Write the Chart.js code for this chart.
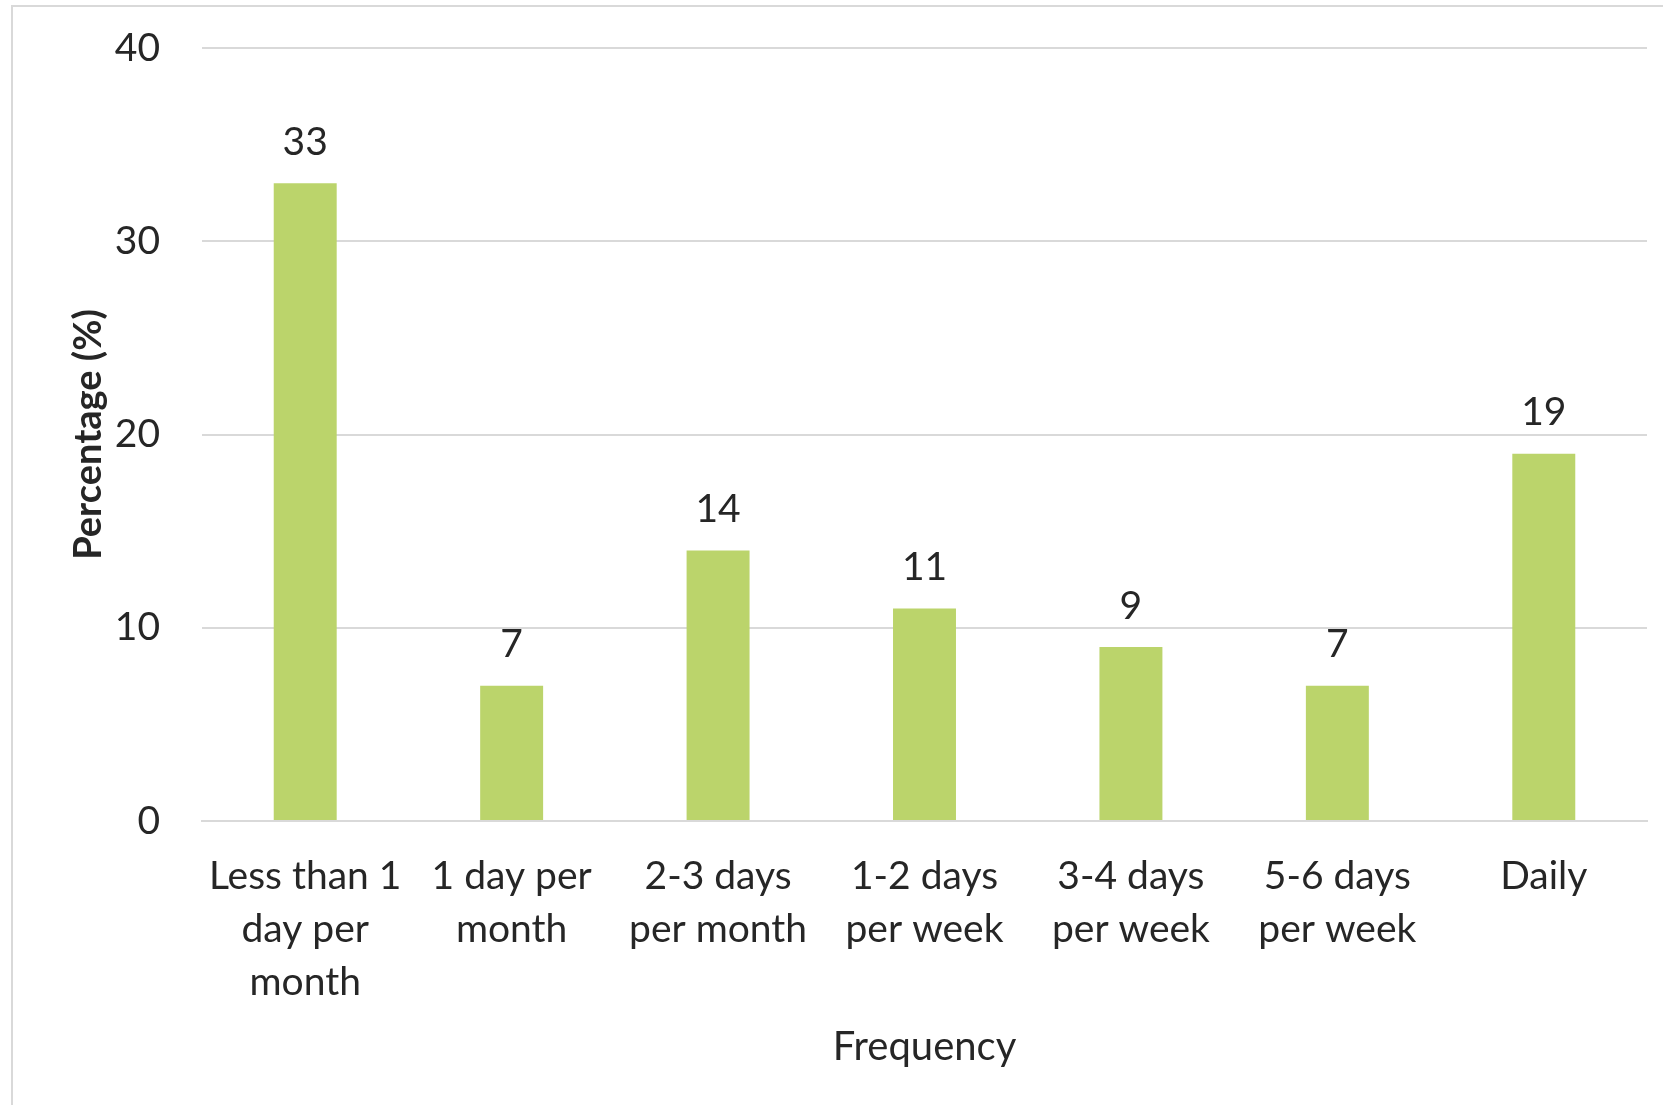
<!DOCTYPE html>
<html>
<head>
<meta charset="utf-8">
<script src="https://cdn.jsdelivr.net/npm/chart.js@4/dist/chart.umd.min.js"></script>
<style>
  html, body { margin: 0; padding: 0; background: #fff; }
  #wrap { width: 1663px; height: 1105px; }
</style>
</head>
<body>
<div id="wrap"><canvas id="freqChart"></canvas></div>
<script>
const categories = [
  ['Less than 1', 'day per', 'month'],
  ['1 day per', 'month'],
  ['2-3 days', 'per month'],
  ['1-2 days', 'per week'],
  ['3-4 days', 'per week'],
  ['5-6 days', 'per week'],
  'Daily'
];
const percentages = [33, 7, 14, 11, 9, 7, 19];
const yTicks = [0, 10, 20, 30, 40];

const textColor = '#262626';
const gridColor = '#d9d9d9';
const fontFamily = 'Lato, "Open Sans", sans-serif';

// frame line around the chart (top and left edges visible)
const framePlugin = {
  id: 'frame',
  beforeDraw(chart) {
    const c = chart.ctx;
    c.save();
    c.strokeStyle = '#d9d9d9';
    c.lineWidth = 2;
    c.beginPath();
    c.moveTo(12, chart.height);
    c.lineTo(12, 6);
    c.lineTo(chart.width, 6);
    c.stroke();
    c.restore();
  }
};

// value labels above each bar
const valueLabels = {
  id: 'valueLabels',
  afterDatasetsDraw(chart) {
    const c = chart.ctx;
    const meta = chart.getDatasetMeta(0);
    c.save();
    c.fillStyle = textColor;
    c.font = '39px ' + fontFamily;
    c.textAlign = 'center';
    c.textBaseline = 'middle';
    meta.data.forEach(function(bar, i) {
      c.fillText(String(percentages[i]), bar.x, bar.y - 41);
    });
    c.restore();
  }
};

new Chart(document.getElementById('freqChart').getContext('2d'), {
  type: 'bar',
  data: {
    labels: categories,
    datasets: [{
      data: percentages,
      backgroundColor: '#bbd46b',
      borderWidth: 0,
      categoryPercentage: 1,
      barPercentage: 0.305
    }]
  },
  options: {
    responsive: true,
    maintainAspectRatio: false,
    animation: false,
    layout: { padding: { left: 66, right: 16, top: 48, bottom: 30 } },
    plugins: {
      legend: { display: false },
      tooltip: { enabled: false }
    },
    scales: {
      x: {
        grid: { display: false, drawTicks: false },
        border: { color: gridColor, width: 2 },
        ticks: {
          color: textColor,
          font: { family: fontFamily, size: 39, lineHeight: 1.36 },
          padding: 29,
          maxRotation: 0,
          autoSkip: false
        },
        title: {
          display: true,
          text: 'Frequency',
          color: textColor,
          font: { family: fontFamily, size: 40 },
          padding: { top: 4, bottom: 4 }
        },
        afterFit(axis) { axis.height = 254; }
      },
      y: {
        min: 0,
        max: 40,
        afterBuildTicks(axis) { axis.ticks = yTicks.map(v => ({ value: v })); },
        grid: { color: gridColor, lineWidth: 2, drawTicks: false },
        border: { display: false },
        ticks: {
          color: textColor,
          font: { family: fontFamily, size: 39 },
          padding: 42
        },
        title: {
          display: true,
          text: 'Percentage (%)',
          color: textColor,
          font: { family: fontFamily, size: 38, weight: 'bold' },
          padding: 0
        },
        afterFit(axis) {
          axis.width = 136;
          axis.paddingTop = 0;
          axis.paddingBottom = 0;
        }
      }
    }
  },
  plugins: [framePlugin, valueLabels]
});
</script>
</body>
</html>
